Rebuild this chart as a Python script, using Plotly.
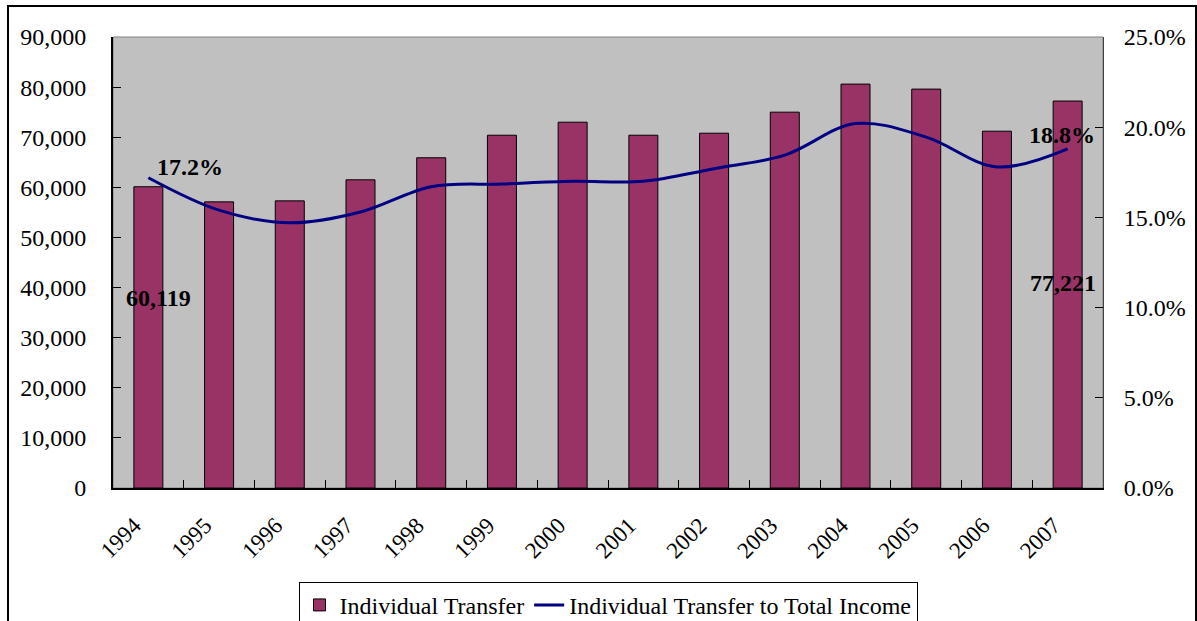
import plotly.graph_objects as go

years = ["1994", "1995", "1996", "1997", "1998", "1999", "2000",
         "2001", "2002", "2003", "2004", "2005", "2006", "2007"]
transfer = [60119, 57100, 57300, 61500, 65900, 70400, 73000,
            70400, 70800, 75000, 80600, 79600, 71200, 77221]
share_pct = [17.2, 15.4, 14.7, 15.3, 16.7, 16.85, 17.0,
             17.0, 17.7, 18.45, 20.2, 19.45, 17.8, 18.8]
y_left_ticks = list(range(0, 90001, 10000))
y_right_ticks = [0, 5, 10, 15, 20, 25]
y_right_text = [f"{v:.1f}%" for v in y_right_ticks]

FONT = "Liberation Serif, Times New Roman, serif"

fig = go.Figure()
fig.add_trace(go.Bar(
    x=years, y=transfer, name="Individual Transfer",
    marker=dict(color="#993366", line=dict(color="#000000", width=1)),
    yaxis="y",
))
fig.add_trace(go.Scatter(
    x=years, y=share_pct, name="Individual Transfer to Total Income",
    mode="lines", line=dict(color="#000080", width=3, shape="spline", smoothing=1.0),
    yaxis="y2",
))

ann_font = dict(family=FONT, size=24, color="#000000")
first, last = 0, len(years) - 1
anns = [
    dict(x=first, y=share_pct[first], yref="y2", text=f"<b>{share_pct[first]:.1f}%</b>",
         showarrow=False, xshift=42, yshift=11, font=ann_font),
    dict(x=first, y=transfer[first], yref="y", text=f"<b>{transfer[first]:,}</b>",
         showarrow=False, xshift=10, yshift=-111, font=ann_font),
    dict(x=last, y=share_pct[last], yref="y2", text=f"<b>{share_pct[last]:.1f}%</b>",
         showarrow=False, xshift=-6, yshift=14, font=ann_font),
    dict(x=last, y=transfer[last], yref="y", text=f"<b>{transfer[last]:,}</b>",
         showarrow=False, xshift=-5, yshift=-182, font=ann_font),
]
for a in anns:
    a["xref"] = "x"
fig.update_layout(annotations=anns)

fig.update_layout(
    width=1197, height=621,
    margin=dict(l=113, r=94, t=37, b=133, autoexpand=False),
    paper_bgcolor="#FFFFFF", plot_bgcolor="#C0C0C0",
    font=dict(family=FONT, size=24, color="#000000"),
    bargap=0.59,
    showlegend=True,
    legend=dict(orientation="h", x=0.5, xanchor="center", y=-0.208, yanchor="top",
                bordercolor="#000000", borderwidth=1, bgcolor="#FFFFFF",
                font=dict(family=FONT, size=24), tracegroupgap=0,
                traceorder="normal"),
    xaxis=dict(type="category", range=[-0.5, len(years) - 0.5],
               showline=True, linecolor="#000000", linewidth=2,
               ticks="inside", ticklen=8, tickcolor="#000000", tickson="boundaries",
               tickangle=-45, tickfont=dict(family=FONT, size=23),
               showgrid=False, zeroline=False, ticklabelstandoff=13,
               ticklabelshift=-14),
    yaxis=dict(range=[0, 90000], tickvals=y_left_ticks, tickformat=",",
               showline=True, linecolor="#000000", linewidth=2,
               ticks="inside", ticklen=8, tickcolor="#000000",
               tickfont=dict(family=FONT, size=24),
               showgrid=False, zeroline=False, ticklabelstandoff=20),
    yaxis2=dict(range=[0, 25], tickvals=y_right_ticks, ticktext=y_right_text,
                overlaying="y", side="right",
                showline=True, linecolor="#404040", linewidth=1,
                ticks="inside", ticklen=8, tickcolor="#000000",
                tickfont=dict(family=FONT, size=24),
                showgrid=False, zeroline=False, ticklabelstandoff=15),
    shapes=[
        dict(type="rect", xref="paper", yref="paper", x0=0, x1=1, y0=0, y1=1,
             line=dict(color="#808080", width=1), layer="below"),
        dict(type="rect", xref="paper", yref="paper",
             x0=(8 - 113) / 990, x1=(1196 - 113) / 990,
             y0=(488 - 640) / 451, y1=(488 - 6) / 451,
             line=dict(color="#000000", width=2), fillcolor="rgba(0,0,0,0)", layer="below"),
    ],
)

fig.write_html("out.html", config={"displayModeBar": False},
               post_script="document.body.style.margin='0';document.body.style.overflow='hidden';")
